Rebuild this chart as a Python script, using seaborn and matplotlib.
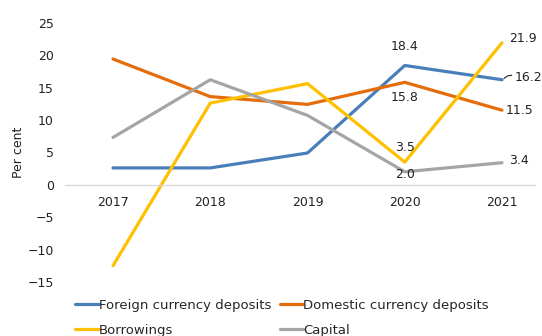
import matplotlib
matplotlib.use("Agg")
import matplotlib.pyplot as plt
import seaborn as sns
import pandas as pd

years = [2017, 2018, 2019, 2020, 2021]
foreign = [2.6, 2.6, 4.9, 18.4, 16.2]
domestic = [19.4, 13.6, 12.4, 15.8, 11.5]
borrowings = [-12.5, 12.6, 15.6, 3.5, 21.9]
capital = [7.3, 16.2, 10.7, 2.0, 3.4]

series_names = ["Foreign currency deposits", "Domestic currency deposits",
                "Borrowings", "Capital"]
colors = ["#4A7EBB", "#E46C0A", "#FFC000", "#A5A5A5"]
y_ticks = [-15, -10, -5, 0, 5, 10, 15, 20, 25]

frames = []
for name, vals in zip(series_names, [foreign, domestic, borrowings, capital]):
    frames.append(pd.DataFrame({"year": years, "value": vals, "series": name}))
df = pd.concat(frames, ignore_index=True)

sns.set_theme(style="white")
plt.rcParams["font.family"] = ["DejaVu Sans"]

fig = plt.figure(figsize=(5.42, 3.36), dpi=100)
ax = fig.add_axes([65 / 542, 1 - 282 / 336, (535 - 65) / 542, (282 - 22.7) / 336])

sns.lineplot(data=df, x="year", y="value", hue="series", hue_order=series_names,
             palette=colors, linewidth=2.3, ax=ax, legend=True, clip_on=False)

px = (502 - 113) / 4
ax.set_xlim(2017 - 48 / px, 2021 + 33 / px)
ax.set_ylim(-15, 25)
ax.set_yticks(y_ticks)
ax.set_xticks(years)
ax.set_xticklabels([str(y) for y in years])
ax.tick_params(axis="both", length=0, labelsize=9, colors="#222222")
ax.tick_params(axis="x", pad=8)
ax.tick_params(axis="y", pad=8)
for s in ["top", "right", "left"]:
    ax.spines[s].set_visible(False)
ax.spines["bottom"].set_position(("data", 0))
ax.spines["bottom"].set_color("#D9D9D9")
ax.spines["bottom"].set_linewidth(1.0)
ax.set_xlabel("")
ax.set_ylabel("Per cent", fontsize=9, color="#222222", labelpad=2)

fs = 9
tc = "#222222"
ax.text(2020, 18.4 + 2.0, "18.4", ha="center", va="bottom", fontsize=fs, color=tc)
ax.text(2020, 15.8 - 1.4, "15.8", ha="center", va="top", fontsize=fs, color=tc)
ax.text(2020, 3.5 + 1.3, "3.5", ha="center", va="bottom", fontsize=fs, color=tc)
ax.text(2020, 2.0 + 0.6, "2.0", ha="center", va="top", fontsize=fs, color=tc)
ax.text(2021 + 0.07, 21.9 + 0.6, "21.9", ha="left", va="center", fontsize=fs, color=tc)
ax.text(2021 + 0.13, 16.2 + 0.3, "16.2", ha="left", va="center", fontsize=fs, color=tc)
ax.plot([2021.02, 2021.06, 2021.1], [16.4, 16.8, 16.9], color="#222222", lw=0.8)
ax.text(2021 + 0.04, 11.5, "11.5", ha="left", va="center", fontsize=fs, color=tc)
ax.text(2021 + 0.07, 3.4 + 0.3, "3.4", ha="left", va="center", fontsize=fs, color=tc)

handles, labels = ax.get_legend_handles_labels()
ax.get_legend().remove()
order = [0, 2, 1, 3]
fig.legend([handles[i] for i in order], [labels[i] for i in order],
           loc="upper left", bbox_to_anchor=(75 / 542, 1 - 299 / 336),
           ncol=2, frameon=False, fontsize=9.5, handlelength=1.8, handletextpad=0.0,
           columnspacing=0.65, labelspacing=0.9, borderpad=0, borderaxespad=0)

fig.savefig("out.png", dpi=100)
